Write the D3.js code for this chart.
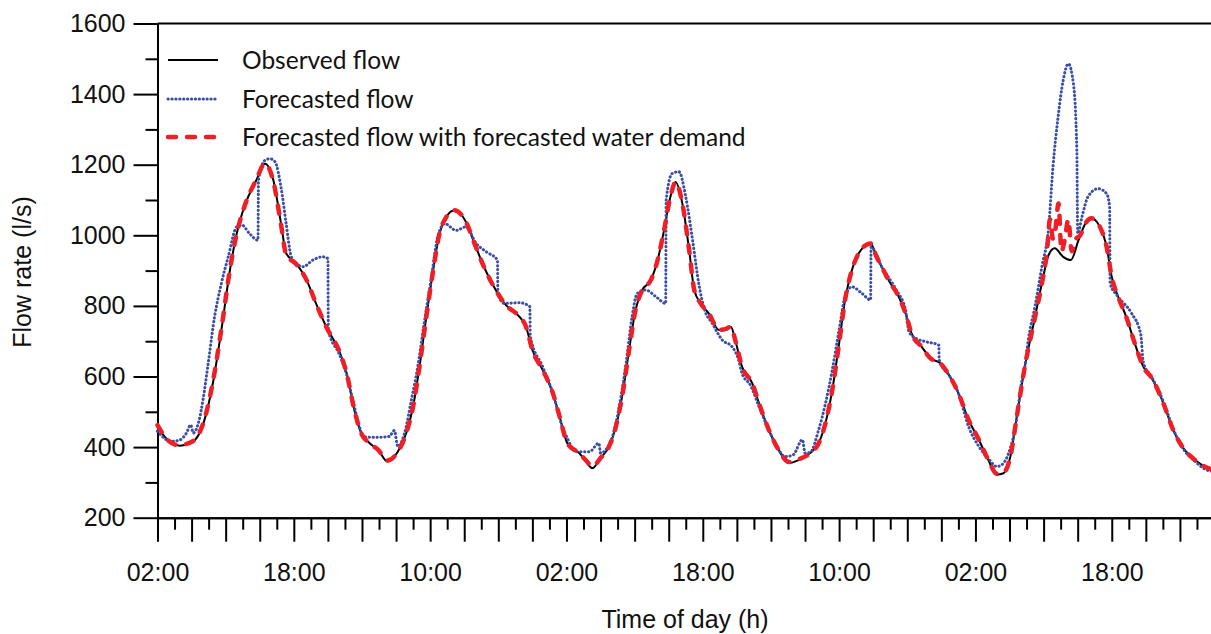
<!DOCTYPE html>
<html><head><meta charset="utf-8">
<script src="https://cdn.jsdelivr.net/npm/d3@7"></script>
<style>body{margin:0;background:#fff}</style>
</head><body>
<svg id="chart" width="1211" height="634"></svg>
<script>
// hours since 02:00 on day 1, flow rate (l/s)
const observed = [[0,458],[1,425],[2,408],[2.6,404],[3.5,408],[4.4,420],[5.4,468],[6.5,581],[7.5,732],[8.5,901],[9.3,1005],[10.25,1085],[11.6,1156],[12.6,1203],[13.6,1156],[14.5,1033],[15.1,949],[16.3,920],[17.5,873],[18.6,807],[19.8,741],[21.4,668],[22.2,609],[23.1,505],[23.9,440],[24.9,411],[25.9,392],[27.0,359],[28.2,387],[29.2,440],[30.0,515],[30.75,628],[31.5,760],[32.3,892],[33.1,1005],[33.9,1052],[34.85,1071],[36.2,1038],[37.2,977],[38.4,906],[39.7,845],[40.9,802],[42.3,774],[43.25,741],[44.0,675],[45.2,619],[46.4,553],[47.2,486],[48.1,411],[49.5,383],[50.3,359],[51.05,340],[52.0,369],[53.0,402],[53.8,458],[54.6,553],[55.35,675],[56.1,788],[56.9,845],[57.9,873],[58.7,930],[59.45,1014],[60.2,1109],[60.8,1151],[61.6,1090],[62.4,958],[63.0,845],[63.75,807],[64.7,779],[65.9,732],[66.7,732],[67.3,741],[67.85,699],[68.6,628],[69.8,581],[70.6,524],[71.75,449],[72.9,392],[74.1,355],[75.3,364],[76.6,383],[77.6,411],[78.4,468],[79.2,562],[80.0,694],[80.7,817],[81.5,901],[82.3,949],[83.7,977],[84.4,939],[85.0,911],[85.8,873],[87.0,826],[87.8,779],[88.5,722],[89.7,684],[90.7,652],[91.9,637],[93.0,600],[94.0,553],[95.2,477],[96.4,421],[97.5,364],[98.5,322],[99.3,326],[100.1,373],[100.85,486],[101.8,628],[103.0,769],[103.8,864],[104.6,945],[105.3,963],[106.3,939],[107.2,930],[108.1,986],[108.9,1033],[109.6,1048],[110.6,1024],[111.4,967],[112.0,882],[112.75,826],[113.7,769],[114.7,694],[115.7,628],[116.7,595],[117.4,562],[118.2,515],[119.2,449],[120.4,397],[121.75,364],[122.9,345],[124,335]];

const forecast = [[0,445],[0.8,425],[1.46,416],[2.6,420],[3.4,440],[3.9,463],[4.2,440],[4.8,468],[5.4,543],[5.95,637],[6.7,769],[7.5,864],[8.3,939],[9.3,1024],[9.9,1029],[10.8,1005],[11.8,986],[11.85,1156],[12.6,1212],[13.2,1217],[13.8,1208],[14.55,1128],[15.1,1033],[15.7,939],[16.3,920],[17.1,911],[18.25,930],[19.4,939],[20.0,934],[20.05,732],[21.4,660],[22.2,605],[23.1,515],[23.8,450],[24.1,430],[25,428],[26,428],[27.2,430],[27.8,447],[28.2,402],[29.0,440],[29.8,534],[30.55,628],[31.3,751],[32.1,873],[32.9,996],[33.7,1033],[35.05,1014],[36.2,1024],[37.4,977],[38.6,953],[39.9,930],[39.95,835],[40.7,807],[42.5,809],[43.7,798],[43.75,713],[45.2,628],[46.4,553],[47.5,458],[48.1,425],[49.1,387],[50.7,387],[51.8,411],[52.0,383],[52.7,395],[53.4,430],[54.2,515],[55.0,638],[55.7,769],[56.3,835],[57.3,845],[58.5,826],[59.65,807],[59.7,1099],[60.4,1175],[61.2,1180],[62.0,1109],[62.8,986],[63.55,860],[64.2,790],[65.1,751],[66.3,703],[67.45,684],[68.2,647],[68.6,609],[69.6,575],[70.6,515],[71.4,468],[72.5,411],[73.7,373],[74.6,378],[75.7,421],[76.0,383],[76.6,385],[77.6,449],[78.4,524],[79.2,619],[80.0,732],[80.7,826],[81.5,854],[82.7,835],[83.7,817],[83.75,967],[85.0,911],[86.7,845],[87.8,788],[88.2,727],[89.0,708],[90.1,699],[91.7,689],[91.75,647],[93.0,600],[94.0,553],[95.2,458],[96.4,402],[97.5,368],[98.5,345],[99.1,350],[99.9,383],[100.7,458],[101.4,581],[101.8,628],[102.2,703],[103.0,800],[103.8,911],[104.6,1024],[105.1,1193],[105.7,1335],[106.3,1439],[106.9,1486],[107.5,1429],[107.9,1241],[108.0,1005],[108.5,1052],[109.2,1109],[110.4,1132],[111.4,1118],[111.75,1080],[111.8,864],[112.75,826],[114.3,780],[115.4,720],[115.7,640],[116.7,598],[117.4,565],[118.2,520],[119.2,452],[120.4,395],[121.75,360],[122.9,338],[124,330]];

const forecastDemand = [[0,462],[1.2,420],[2,408],[2.6,405],[3.5,410],[4.4,422],[5.4,470],[6.5,585],[7.5,735],[8.5,903],[9.3,1005],[10.25,1085],[11.6,1158],[12.6,1203],[13.6,1152],[14.5,1030],[15.1,945],[16.3,918],[17.5,873],[18.6,807],[19.8,741],[21.4,668],[22.2,609],[23.1,505],[23.9,440],[24.9,411],[25.9,392],[27.0,362],[28.2,387],[29.2,440],[30.0,515],[30.75,628],[31.5,760],[32.3,892],[33.1,1005],[33.9,1052],[34.85,1071],[36.2,1038],[37.2,977],[38.4,906],[39.7,845],[40.9,802],[42.3,774],[43.25,741],[44.0,675],[45.2,619],[46.4,553],[47.2,486],[48.1,411],[49.5,383],[50.3,362],[51.05,345],[52.0,369],[53.0,402],[53.8,458],[54.6,553],[55.35,675],[56.1,788],[56.9,845],[57.9,873],[58.7,930],[59.45,1014],[60.2,1109],[60.8,1151],[61.6,1090],[62.4,958],[63.0,845],[63.75,807],[64.7,779],[65.9,732],[66.7,735],[67.3,741],[67.85,699],[68.6,628],[69.8,581],[70.6,524],[71.75,449],[72.9,392],[74.1,358],[75.3,366],[76.6,383],[77.6,411],[78.4,468],[79.2,562],[80.0,694],[80.7,817],[81.5,901],[82.3,949],[83.7,977],[84.4,939],[85.0,911],[85.8,873],[87.0,826],[87.8,779],[88.5,722],[89.7,684],[90.7,652],[91.9,637],[93.0,600],[94.0,553],[95.2,477],[96.4,421],[97.5,364],[98.5,325],[99.3,328],[100.1,373],[100.85,486],[101.8,628],[103.0,769],[103.8,864],[104.4,955],[104.75,1045],[105.1,990],[105.35,1010],[105.75,1090],[106.1,955],[106.5,990],[106.9,1045],[107.3,955],[107.8,990],[108.3,1000],[108.9,1033],[109.6,1048],[110.6,1024],[111.4,967],[112.0,882],[112.75,826],[113.7,769],[114.7,694],[115.7,628],[116.7,595],[117.4,562],[118.2,515],[119.2,449],[120.4,397],[121.75,364],[122.9,345],[124,335]];

const seriesNames = ["Observed flow","Forecasted flow","Forecasted flow with forecasted water demand"];
const xLabelHours = [0,16,32,48,64,80,96,112];
const xTickLabels = ["02:00","18:00","10:00","02:00","18:00","10:00","02:00","18:00"];
const yTicks = [200,400,600,800,1000,1200,1400,1600];
const yMinorTicks = [300,500,700,900,1100,1300,1500];

const svg = d3.select("#chart");
const x = d3.scaleLinear().domain([0,124]).range([157.5,1214]);
const y = d3.scaleLinear().domain([200,1600]).range([517.7,23.5]);
const FONT = "'Liberation Sans', Arial, sans-serif";

const styles = [
  {stroke:"#000", width:2, dash:null, cap:"butt"},
  {stroke:"#3b4ea6", width:3, dash:"0.3 3.6", cap:"round"},
  {stroke:"#ee1f27", width:4.5, dash:"8 11", cap:"round"}
];

// axes
const majorX = d3.range(0,124,4);
const minorX = d3.range(2,124,4);
const gx = svg.append("g").attr("transform",`translate(0,${y(200)})`)
  .call(d3.axisBottom(x).tickValues(majorX).tickSize(24).tickSizeOuter(0).tickPadding(22)
    .tickFormat(d => xLabelHours.includes(d) ? xTickLabels[xLabelHours.indexOf(d)] : ""));
const gxm = svg.append("g").attr("transform",`translate(0,${y(200)})`)
  .call(d3.axisBottom(x).tickValues(minorX).tickSize(12).tickSizeOuter(0).tickFormat(""));
const gy = svg.append("g").attr("transform",`translate(${x(0)},0)`)
  .call(d3.axisLeft(y).tickValues(yTicks).tickSize(24).tickSizeOuter(0).tickPadding(8).tickFormat(d3.format("d")));
const gym = svg.append("g").attr("transform",`translate(${x(0)},0)`)
  .call(d3.axisLeft(y).tickValues(yMinorTicks).tickSize(12).tickSizeOuter(0).tickFormat(""));
[gx,gxm,gy,gym].forEach(g => {
  g.selectAll("path,line").attr("stroke","#000").attr("stroke-width",2);
  g.selectAll("text").attr("fill","#111").style("font-family",FONT).style("font-size","25px");
});
// top frame line
svg.append("line").attr("x1",x(0)).attr("x2",1211).attr("y1",y(1600)).attr("y2",y(1600))
  .attr("stroke","#000").attr("stroke-width",2);

// titles
svg.append("text").attr("x",685).attr("y",628).attr("text-anchor","middle")
  .style("font-family",FONT).style("font-size","25px").attr("fill","#111").text("Time of day (h)");
svg.append("text").attr("transform","translate(31,272) rotate(-90)").attr("text-anchor","middle")
  .style("font-family",FONT).style("font-size","25px").attr("fill","#111").text("Flow rate (l/s)");

// lines
const line = d3.line().x(d => x(d[0])).y(d => y(d[1])).curve(d3.curveMonotoneX);
[observed, forecast, forecastDemand].forEach((data,i) => {
  const s = styles[i];
  svg.append("path").datum(data).attr("d",line).attr("fill","none")
    .attr("stroke",s.stroke).attr("stroke-width",s.width)
    .attr("stroke-dasharray",s.dash).attr("stroke-linecap",s.cap).attr("stroke-linejoin","round");
});

// legend
const leg = svg.append("g");
const legY = [60,99,137];
seriesNames.forEach((name,i) => {
  const s = styles[i];
  leg.append("line").attr("x1",168).attr("x2",218).attr("y1",legY[i]).attr("y2",legY[i])
    .attr("stroke",s.stroke).attr("stroke-width",s.width)
    .attr("stroke-dasharray",s.dash).attr("stroke-linecap",s.cap);
  leg.append("text").attr("x",242).attr("y",legY[i]).attr("dy","0.35em")
    .style("font-family","Lato, 'Open Sans', sans-serif").style("font-size","24.5px")
    .attr("fill","#111").text(name);
});
</script>
</body></html>
